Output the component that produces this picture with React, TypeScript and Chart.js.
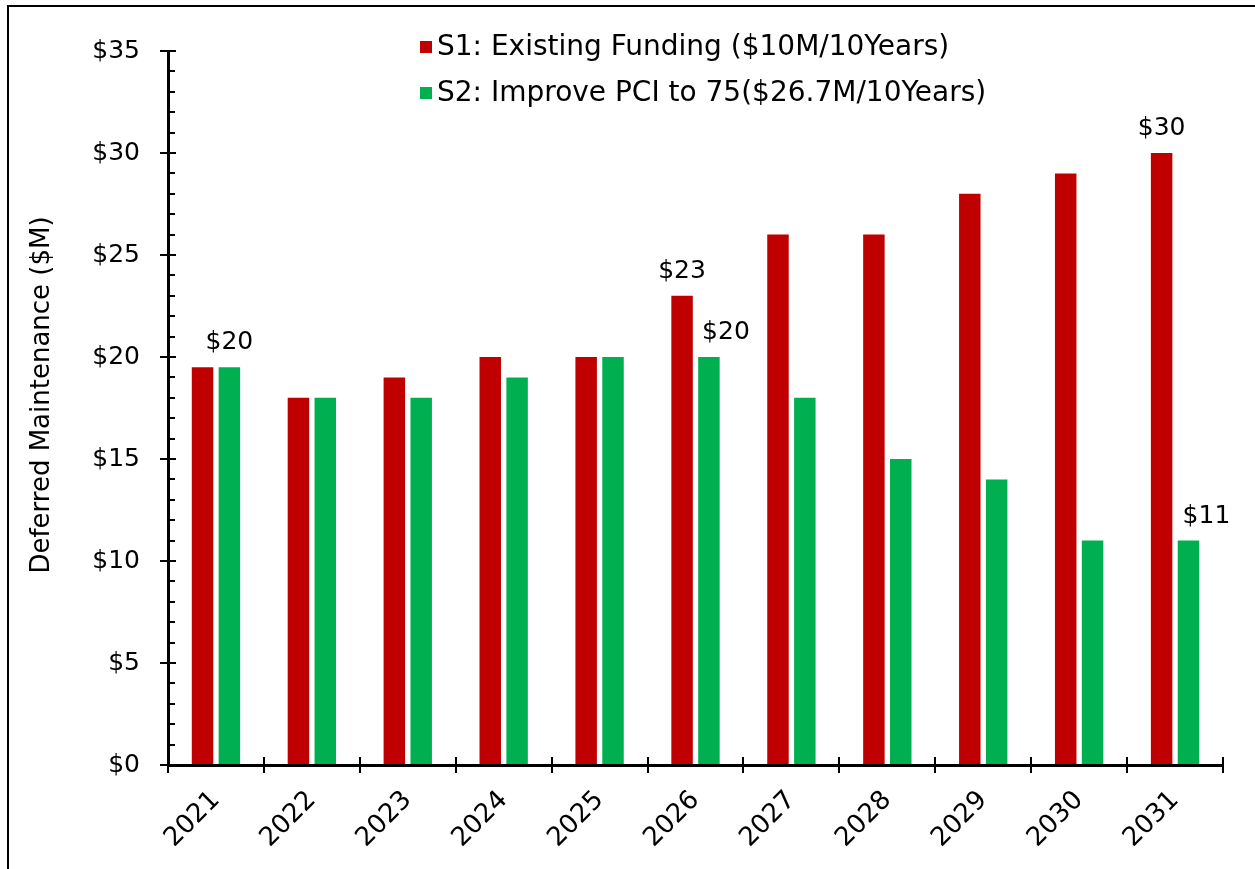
import React, { useEffect, useRef } from 'react';
import { Chart, registerables } from 'chart.js';

Chart.register(...registerables);

const categories = ['2021', '2022', '2023', '2024', '2025', '2026', '2027', '2028', '2029', '2030', '2031'];
const s1Values = [19.5, 18, 19, 20, 20, 23, 26, 26, 28, 29, 30];
const s2Values = [19.5, 18, 18, 19, 20, 20, 18, 15, 14, 11, 11];
const seriesNames = ['S1: Existing Funding ($10M/10Years)', 'S2: Improve PCI to 75($26.7M/10Years)'];
const seriesColors = ['#C00000', '#00B050'];
const s1LabelIdx = [5, 10];
const s2LabelIdx = [0, 5, 10];
const yMin = 0;
const yMax = 35;
const yStep = 5;
const yMinorStep = 1;
const yTitle = 'Deferred Maintenance ($M)';

// style: horizontal nudges of the value labels (px)
const s1LabelDx = [0, 0];
const s2LabelDx = [0, 17, 18];

const FONT = "'DejaVu Sans', Verdana, sans-serif";

const customPlugin = {
  id: 'customDecor',
  afterDraw(chart: any) {
    const ctx = chart.ctx as CanvasRenderingContext2D;
    const area = chart.chartArea;
    const xs = chart.scales.x;
    const ys = chart.scales.y;
    ctx.save();
    ctx.strokeStyle = '#000';
    ctx.lineWidth = 2;
    // inner y ticks (major and minor)
    for (let v = yMin + yMinorStep; v <= yMax; v += yMinorStep) {
      const py = Math.round(ys.getPixelForValue(v));
      const len = v % yStep === 0 ? 8 : 7;
      ctx.beginPath();
      ctx.moveTo(area.left, py);
      ctx.lineTo(area.left + len, py);
      ctx.stroke();
    }
    // upward x ticks at category boundaries
    const n = categories.length;
    const w = (xs.right - xs.left) / n;
    for (let i = 1; i <= n; i++) {
      const px = Math.round(xs.getPixelForValue(i - 1) + w / 2);
      ctx.beginPath();
      ctx.moveTo(px, area.bottom);
      ctx.lineTo(px, area.bottom - 8);
      ctx.stroke();
    }
    // data labels
    ctx.fillStyle = '#000';
    ctx.font = `25px ${FONT}`;
    ctx.textAlign = 'center';
    ctx.textBaseline = 'alphabetic';
    const labelSets = [s1LabelIdx, s2LabelIdx];
    const labelDx = [s1LabelDx, s2LabelDx];
    labelSets.forEach((idxs, di) => {
      const meta = chart.getDatasetMeta(di);
      const vals = chart.data.datasets[di].data as number[];
      idxs.forEach((i, k) => {
        const el = meta.data[i];
        if (!el) return;
        ctx.fillText('$' + Math.round(vals[i]), el.x + labelDx[di][k], el.y - 18);
      });
    });
    // y axis title
    ctx.save();
    ctx.font = `26px ${FONT}`;
    ctx.translate(area.left - 126, (area.top + area.bottom) / 2 - 13);
    ctx.rotate(-Math.PI / 2);
    ctx.textAlign = 'center';
    ctx.textBaseline = 'middle';
    ctx.fillText(yTitle, 0, 0);
    ctx.restore();
    // legend
    const lx = area.left + 252;
    const rows = [area.top - 4, area.top + 42];
    ctx.font = `28px ${FONT}`;
    ctx.textAlign = 'left';
    ctx.textBaseline = 'middle';
    seriesNames.forEach((name, i) => {
      ctx.fillStyle = seriesColors[i];
      ctx.fillRect(lx, rows[i] - 6, 12, 12);
      ctx.fillStyle = '#000';
      ctx.fillText(name, lx + 17, rows[i] + 1);
    });
    ctx.restore();
  },
};

export default function App() {
  const canvasRef = useRef<HTMLCanvasElement | null>(null);

  useEffect(() => {
    if (!canvasRef.current) return;
    const chart = new Chart(canvasRef.current, {
      type: 'bar',
      data: {
        labels: categories,
        datasets: [
          {
            label: seriesNames[0],
            data: s1Values,
            backgroundColor: seriesColors[0],
            categoryPercentage: 0.56,
            barPercentage: 0.8,
          },
          {
            label: seriesNames[1],
            data: s2Values,
            backgroundColor: seriesColors[1],
            categoryPercentage: 0.56,
            barPercentage: 0.8,
          },
        ],
      },
      options: {
        animation: false,
        responsive: true,
        maintainAspectRatio: false,
        layout: { padding: { left: 0, right: 32, top: 51, bottom: 0 } },
        plugins: {
          legend: { display: false },
          tooltip: { enabled: false },
        },
        scales: {
          x: {
            grid: {
              display: true,
              drawOnChartArea: false,
              offset: true,
              tickLength: 8,
              color: '#000',
              lineWidth: 2,
            },
            border: { display: true, color: '#000', width: 3 },
            ticks: {
              color: '#000',
              font: { family: FONT, size: 26 },
              minRotation: 45,
              maxRotation: 45,
              padding: 12,
            },
            afterFit(scale: any) {
              scale.height = 869 - 765;
            },
          },
          y: {
            min: yMin,
            max: yMax,
            grid: {
              display: true,
              drawOnChartArea: false,
              tickLength: 8,
              color: '#000',
              lineWidth: 2,
            },
            border: { display: true, color: '#000', width: 3 },
            ticks: {
              stepSize: yStep,
              color: '#000',
              font: { family: FONT, size: 25 },
              padding: 20,
              callback: (v: any) => '$' + v,
            },
            title: { display: false, text: yTitle },
            afterFit(scale: any) {
              scale.width = 168;
            },
          },
        },
      },
      plugins: [customPlugin],
    });
    return () => chart.destroy();
  }, []);

  return (
    <div style={{ position: 'absolute', left: 0, top: 0, width: 1255, height: 869, background: '#fff', overflow: 'hidden' }}>
      <div
        style={{
          position: 'absolute',
          left: 7,
          top: 5,
          width: 1300,
          height: 900,
          borderLeft: '2px solid #000',
          borderTop: '2px solid #000',
          boxSizing: 'border-box',
        }}
      />
      <div style={{ position: 'absolute', left: 0, top: 0, width: 1255, height: 869 }}>
        <canvas ref={canvasRef} />
      </div>
    </div>
  );
}
